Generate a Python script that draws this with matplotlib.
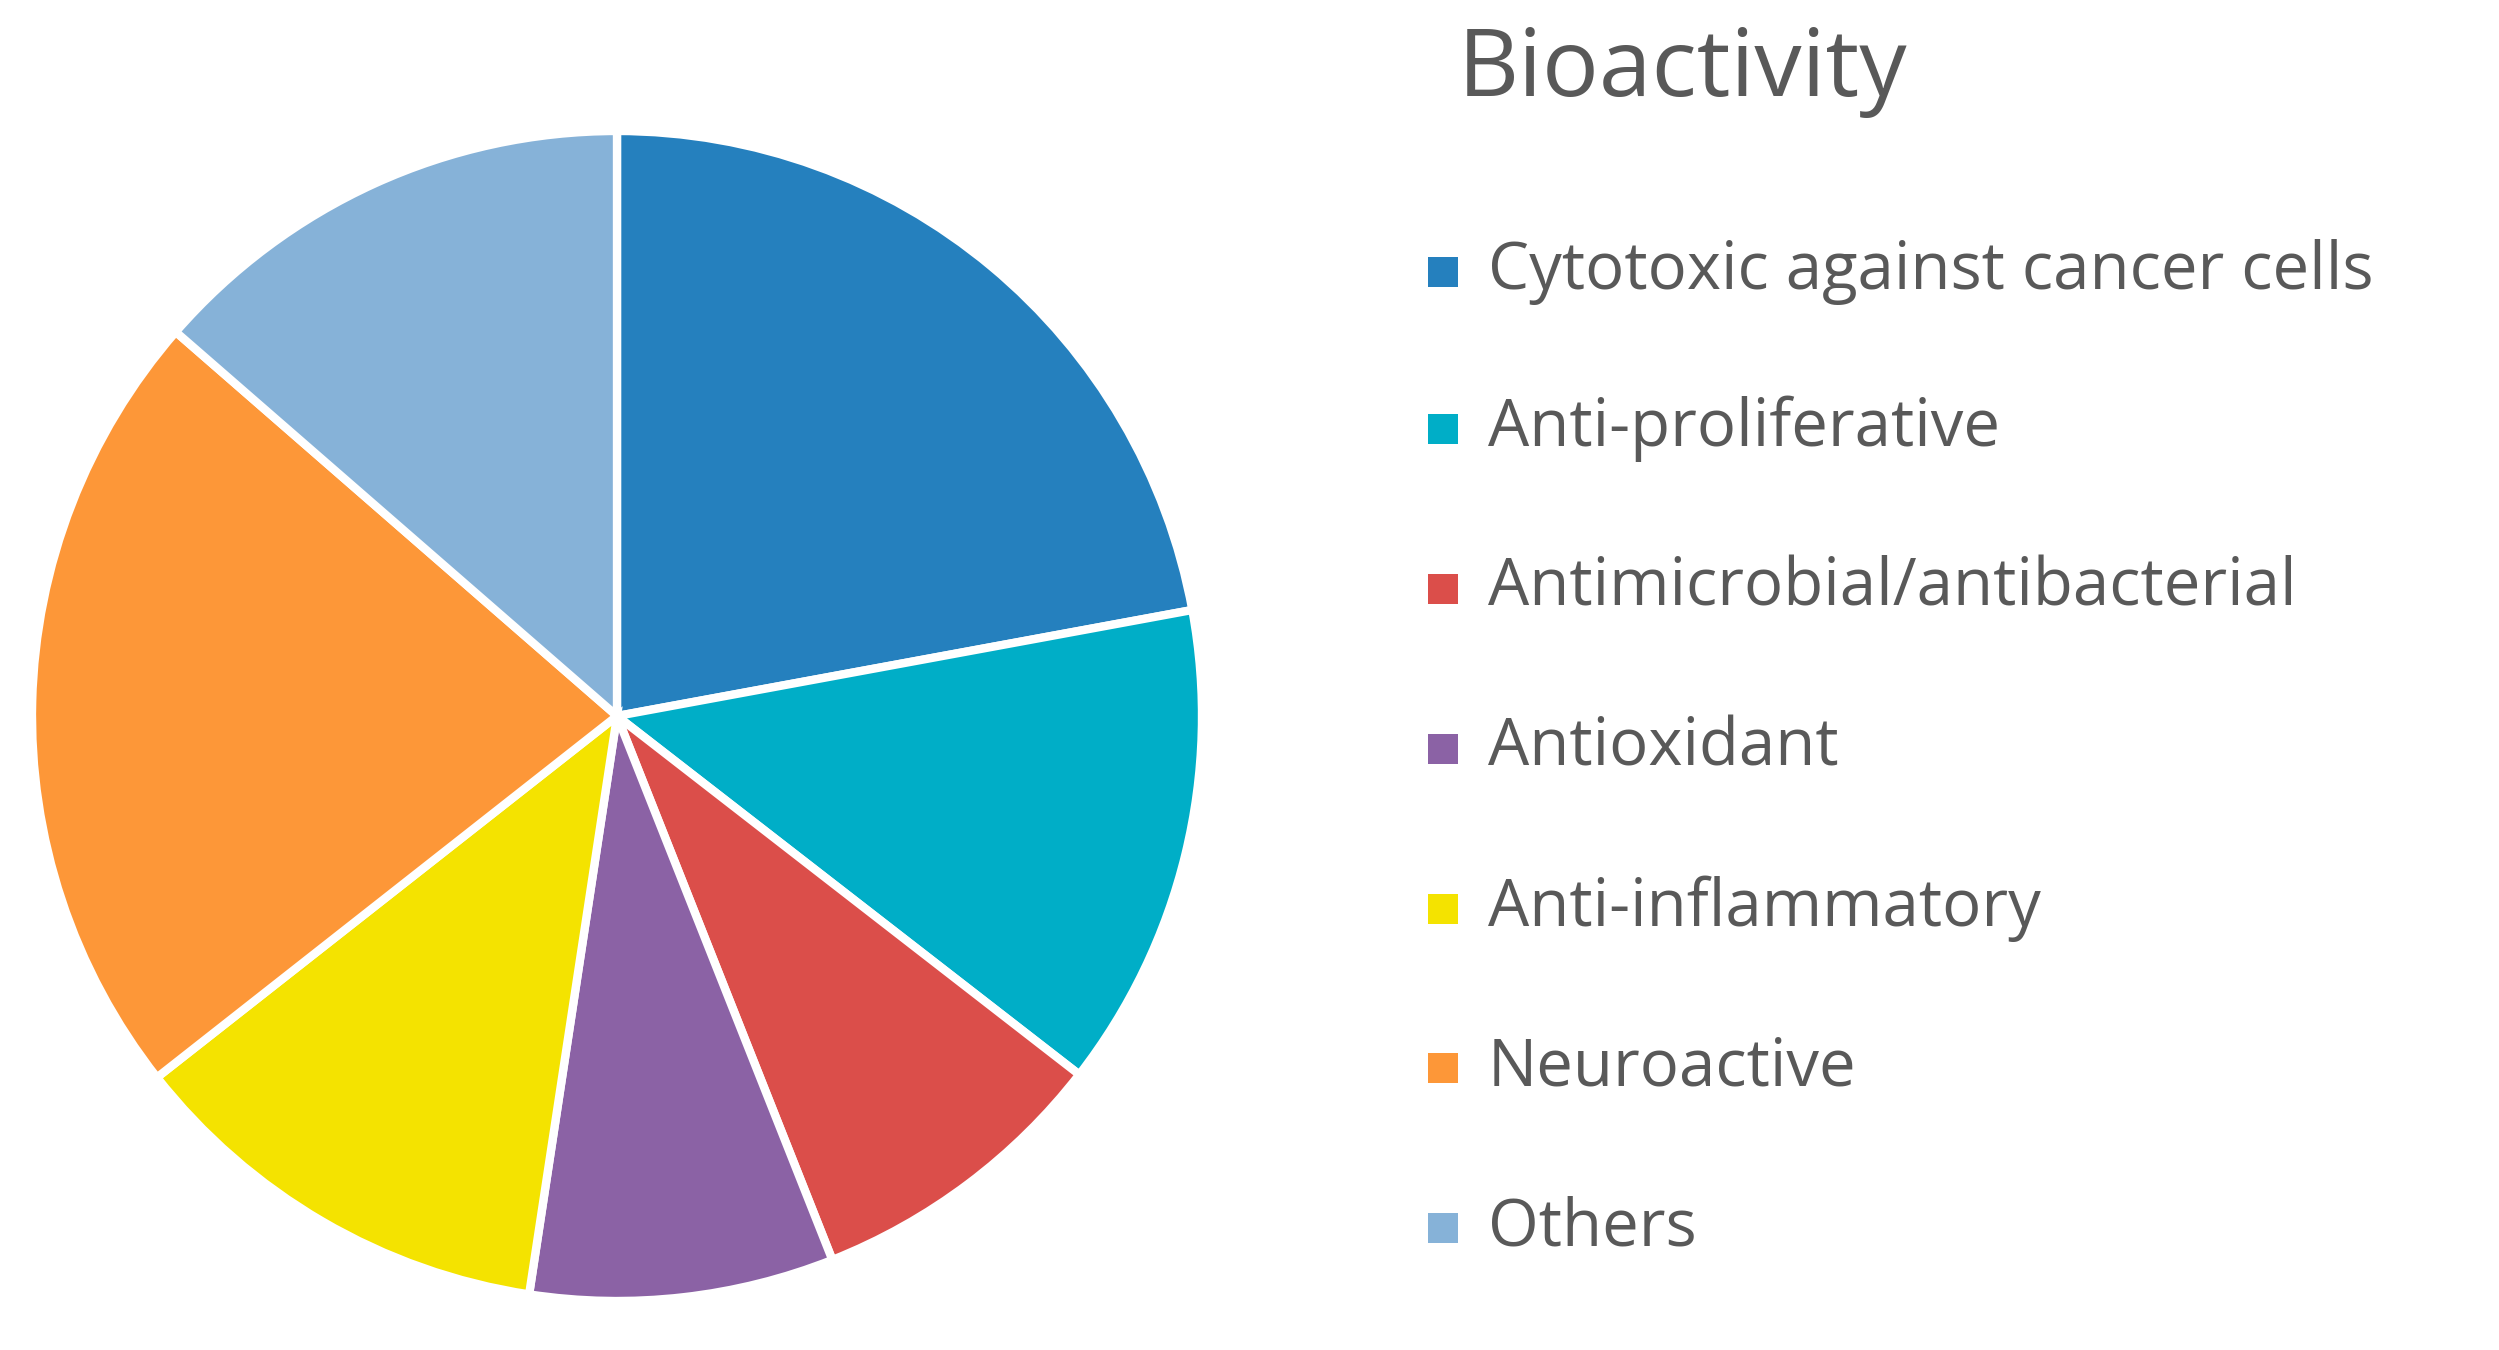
import matplotlib
matplotlib.use("Agg")
import matplotlib.pyplot as plt
from matplotlib.patches import Rectangle

categories = ["Cytotoxic against cancer cells", "Anti-proliferative", "Antimicrobial/antibacterial",
              "Antioxidant", "Anti-inflammatory", "Neuroactive", "Others"]
values = [22.1, 13.4, 8.5, 8.4, 12.0, 22.0, 13.6]
colors = ["#2580BE", "#00AEC7", "#DB4E4A", "#8B62A5", "#F4E300", "#FD9738", "#86B2D8"]

W, H = 2499, 1350
fig = plt.figure(figsize=(W/100, H/100), dpi=100)
cx, cy, r = 617, 716, 585
ax = fig.add_axes([(cx-r)/W, (H-cy-r)/H, 2*r/W, 2*r/H])
ax.pie(values, colors=colors, startangle=90, counterclock=False,
       wedgeprops=dict(edgecolor="white", linewidth=6))
ax.set_xlim(-1, 1)
ax.set_ylim(-1, 1)
ax.set_aspect("equal")

tc = "#595959"
fig.text(1458/W, 1-72/H, "Bioactivity", fontsize=68, color=tc, family="Open Sans", va="center")
ys = [272, 429, 589, 749, 909, 1068, 1228]
for y, lab, c in zip(ys, categories, colors):
    fig.patches.append(Rectangle((1428/W, 1-(y+15)/H), 30/W, 30/H, transform=fig.transFigure,
                                 facecolor=c, edgecolor="none"))
    fig.text(1488/W, 1-y/H, lab, fontsize=47, color=tc, family="Open Sans", va="center")

fig.savefig("out.png", dpi=100, facecolor="white")
